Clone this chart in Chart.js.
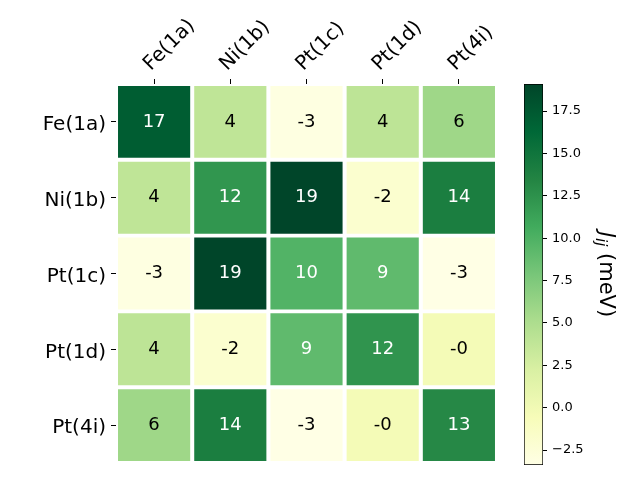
<!DOCTYPE html>
<html>
<head>
<meta charset="utf-8">
<script src="https://cdn.jsdelivr.net/npm/chart.js@4"></script>
<style>
  html, body { margin: 0; padding: 0; background: #fff; }
  #wrap { position: relative; width: 640px; height: 480px; }
  #wrap canvas { position: absolute; left: 0; top: 0; }
</style>
</head>
<body>
<div id="wrap">
  <canvas id="heat" width="640" height="480"></canvas>
  <canvas id="cbar" width="640" height="480"></canvas>
</div>
<script>
// sites (same order on both axes)
const sites = ['Fe(1a)', 'Ni(1b)', 'Pt(1c)', 'Pt(1d)', 'Pt(4i)'];

// J_ij in meV, one row per site
const rowFe   = [17.2, 3.9, -3.1, 4.0, 5.8];
const rowNi   = [3.9, 12.2, 19.1, -2.0, 14.1];
const rowPt1c = [-3.1, 19.1, 9.8, 9.1, -3.38];
const rowPt1d = [4.0, -2.0, 9.1, 12.3, -0.3];
const rowPt4i = [5.8, 14.1, -3.38, -0.3, 13.2];
const jij = [rowFe, rowNi, rowPt1c, rowPt1d, rowPt4i];

const vmin = -3.38, vmax = 19.1;
const cbarTicks = [-2.5, 0, 2.5, 5, 7.5, 10, 12.5, 15, 17.5];

// YlGn
const ylgn = ['#ffffe5', '#f7fcb9', '#d9f0a3', '#addd8e', '#78c679', '#41ab5d', '#238443', '#006837', '#004529'];

Chart.defaults.font.family = '"DejaVu Sans", sans-serif';

function norm(v) {
  return Math.min(1, Math.max(0, (v - vmin) / (vmax - vmin)));
}
function hex(h) {
  return [1, 3, 5].map(i => parseInt(h.substr(i, 2), 16));
}
function colorOf(v) {
  const t = norm(v) * (ylgn.length - 1);
  const i = Math.min(Math.floor(t), ylgn.length - 2);
  const f = t - i;
  const a = hex(ylgn[i]), b = hex(ylgn[i + 1]);
  const c = a.map((x, k) => Math.round(x + (b[k] - x) * f));
  return 'rgb(' + c.join(',') + ')';
}

const annotate = {
  id: 'annotate',
  afterDatasetsDraw(chart) {
    const ctx = chart.ctx;
    ctx.save();
    ctx.font = '18px "DejaVu Sans"';
    ctx.textAlign = 'center';
    ctx.textBaseline = 'middle';
    chart.data.datasets.forEach((ds, r) => {
      chart.getDatasetMeta(r).data.forEach((bar, c) => {
        const v = jij[r][c];
        ctx.fillStyle = norm(v) > 0.5 ? '#fff' : '#000';
        ctx.fillText(v.toFixed(0), bar.x, (bar.y + bar.base) / 2);
      });
    });
    ctx.restore();
  }
};

new Chart(document.getElementById('heat'), {
  type: 'bar',
  data: {
    labels: sites,
    datasets: jij.map((row, r) => ({
      label: sites[r],
      data: row.map(() => [r - 0.474, r + 0.474]),
      backgroundColor: row.map(colorOf),
      borderWidth: 0,
      grouped: false,
      barPercentage: 0.947,
      categoryPercentage: 1
    }))
  },
  options: {
    responsive: false,
    animation: false,
    layout: { padding: { left: 0, top: 0, right: 143, bottom: 15 } },
    plugins: { legend: { display: false }, tooltip: { enabled: false } },
    scales: {
      x: {
        position: 'top',
        grid: { offset: false, drawOnChartArea: false, tickLength: 5, tickColor: '#000' },
        border: { display: false },
        ticks: { minRotation: 45, maxRotation: 45, autoSkip: false, color: '#000', font: { size: 20 }, padding: 3, labelOffset: 10 },
        afterFit: s => { s.height = 84; }
      },
      y: {
        type: 'linear',
        min: -0.5,
        max: 4.5,
        reverse: true,
        grid: { drawOnChartArea: false, tickLength: 5, tickColor: '#000' },
        border: { display: false },
        afterBuildTicks: s => { s.ticks = sites.map((_, i) => ({ value: i })); },
        ticks: { callback: v => sites[v], color: '#000', font: { size: 20 }, padding: 5, labelOffset: 3 },
        afterFit: s => { s.width = 116; }
      }
    }
  },
  plugins: [annotate]
});

const cbarTitle = {
  id: 'cbarTitle',
  afterDraw(chart) {
    const { ctx, chartArea: a } = chart;
    ctx.save();
    ctx.translate(605, (a.top + a.bottom) / 2);
    ctx.rotate(Math.PI / 2);
    ctx.fillStyle = '#000';
    ctx.textBaseline = 'alphabetic';
    const big = 'italic 21px "DejaVu Sans"', small = 'italic 15px "DejaVu Sans"', reg = '21px "DejaVu Sans"';
    ctx.font = big; const wJ = ctx.measureText('J').width;
    ctx.font = small; const wS = ctx.measureText('ij').width;
    ctx.font = reg; const wU = ctx.measureText(' (meV)').width;
    let x = -(wJ + wS + wU) / 2;
    const base = 5;
    ctx.font = big; ctx.fillText('J', x, base); x += wJ;
    ctx.font = small; ctx.fillText('ij', x, base + 4); x += wS;
    ctx.font = reg; ctx.fillText(' (meV)', x, base);
    ctx.restore();
  }
};

new Chart(document.getElementById('cbar'), {
  type: 'bar',
  data: {
    labels: [''],
    datasets: [{
      data: [[vmin, vmax]],
      backgroundColor: c => {
        const a = c.chart.chartArea;
        if (!a || !isFinite(a.top) || !isFinite(a.bottom)) return ylgn[4];
        const g = c.chart.ctx.createLinearGradient(0, a.bottom, 0, a.top);
        ylgn.forEach((col, i) => g.addColorStop(i / (ylgn.length - 1), col));
        return g;
      },
      borderColor: '#000',
      borderWidth: 1,
      borderSkipped: false,
      barPercentage: 1,
      categoryPercentage: 1
    }]
  },
  options: {
    responsive: false,
    animation: false,
    layout: { padding: { left: 524, top: 84, bottom: 15, right: 37 } },
    plugins: { legend: { display: false }, tooltip: { enabled: false } },
    scales: {
      x: { display: false },
      y: {
        position: 'right',
        min: vmin,
        max: vmax,
        grid: { drawOnChartArea: false, tickLength: 4, tickColor: '#000' },
        border: { display: false },
        afterBuildTicks: s => { s.ticks = cbarTicks.map(v => ({ value: v })); },
        ticks: { color: '#000', font: { size: 13 }, padding: 5, callback: v => v.toFixed(1).replace('-', '\u2212') },
        afterFit: s => { s.width = 60; }
      }
    }
  },
  plugins: [cbarTitle]
});
</script>
</body>
</html>
